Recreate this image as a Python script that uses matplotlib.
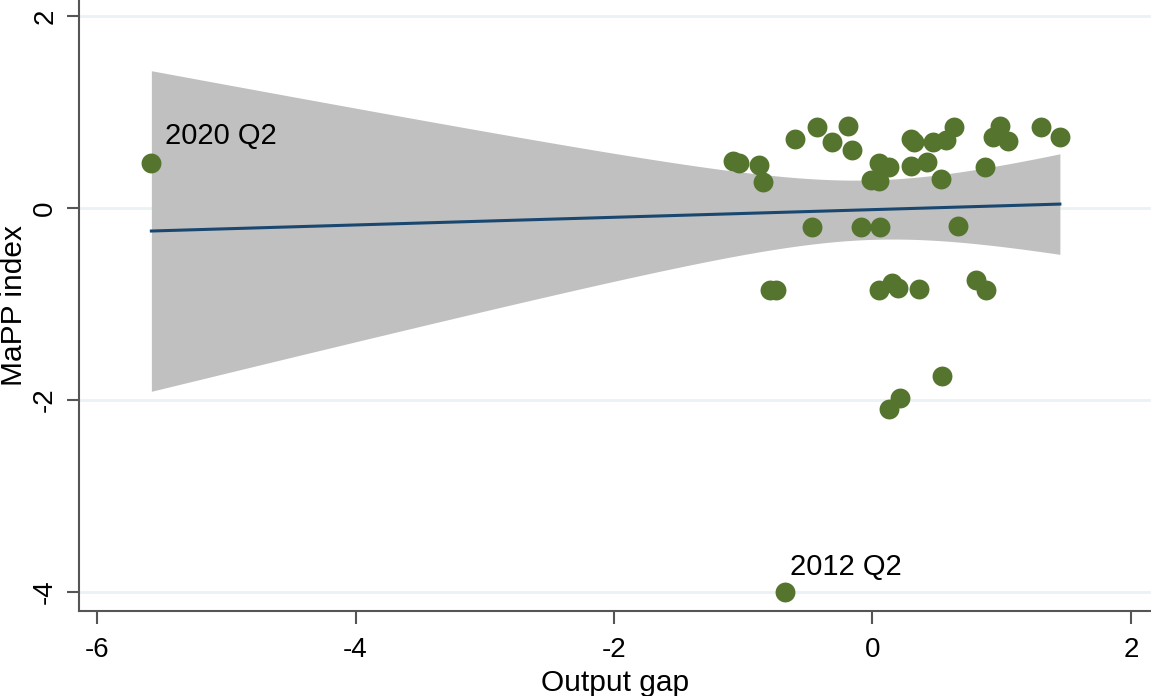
import numpy as np
import matplotlib.pyplot as plt

plt.rcParams['font.family'] = ['Liberation Sans', 'DejaVu Sans']

# --- Data ---
output_gap = [
    -5.58, -0.68,
    -1.08, -1.03, -0.88, -0.85, -0.60, -0.43, -0.31, -0.19, -0.16,
    0.05, 0.13, -0.01, 0.05, 0.30, 0.32, 0.30, 0.42, 0.47, 0.57, 0.63,
    0.53, 0.87, 0.93, 0.99, 1.05, 1.30, 1.45,
    -0.47, -0.09, 0.06, 0.66,
    -0.79, -0.75, 0.05, 0.15, 0.20, 0.36, 0.80, 0.88,
    0.54, 0.21, 0.13,
]
mapp_index = [
    0.47, -4.00,
    0.49, 0.47, 0.45, 0.27, 0.72, 0.84, 0.69, 0.85, 0.60,
    0.47, 0.43, 0.29, 0.28, 0.72, 0.69, 0.44, 0.48, 0.69, 0.71, 0.84,
    0.30, 0.43, 0.74, 0.85, 0.70, 0.84, 0.74,
    -0.20, -0.20, -0.20, -0.19,
    -0.85, -0.86, -0.86, -0.78, -0.83, -0.84, -0.75, -0.86,
    -1.75, -1.98, -2.09,
]
labels = {"2020 Q2": (-5.58, 0.47), "2012 Q2": (-0.68, -4.00)}
x_ticks = [-6, -4, -2, 0, 2]
y_ticks = [-4, -2, 0, 2]

GREEN = "#55752f"
NAVY = "#1a476f"
BAND = "#c0c0c0"
GRID = "#eaf2f3"
AXIS = "#555555"

x = np.array(output_gap)
y = np.array(mapp_index)

# linear fit with 95% CI of the mean (like Stata's lfitci)
n = len(x)
slope, intercept = np.polyfit(x, y, 1)
resid = y - (intercept + slope * x)
s = np.sqrt((resid ** 2).sum() / (n - 2))
sxx = ((x - x.mean()) ** 2).sum()
t_crit = 2.017  # t(0.975, df ~ 42)
xf = np.linspace(x.min(), x.max(), 200)
yf = intercept + slope * xf
half = t_crit * s * np.sqrt(1 / n + (xf - x.mean()) ** 2 / sxx)

fig = plt.figure(figsize=(11.51, 6.96), dpi=100)
ax = fig.add_axes([79 / 1151, 85 / 696, 1 - 79 / 1151, 611 / 696])

for yt in y_ticks:
    ax.axhline(yt, color=GRID, lw=2, zorder=0)

ax.fill_between(xf, yf - half, yf + half, color=BAND, lw=0, zorder=1)
ax.plot(xf, yf, color=NAVY, lw=2.2, zorder=2)
ax.scatter(x, y, s=205, color=GREEN, lw=0, zorder=3)

for txt, (px, py) in labels.items():
    off = (10, 19) if txt == "2020 Q2" else (4, 18)
    ax.annotate(txt, (px, py), xytext=off, textcoords="offset points",
                ha="left", va="center", fontsize=21, color="black")

ax.set_xlim(-6.14, 2.155)
ax.set_ylim(-4.2, 2.167)
ax.set_xticks(x_ticks)
ax.set_yticks(y_ticks)
ax.set_xticklabels([str(v) for v in x_ticks])
ax.set_yticklabels([str(v) for v in y_ticks], rotation=90, va="center")

for side in ("top", "right"):
    ax.spines[side].set_visible(False)
for side in ("left", "bottom"):
    ax.spines[side].set_color(AXIS)
    ax.spines[side].set_linewidth(1.5)
ax.tick_params(axis="both", length=9, width=1.5, color=AXIS,
               labelsize=20, pad=6)
ax.tick_params(axis="x", pad=10)

ax.set_xlabel("Output gap", fontsize=21.5, labelpad=4)
ax.set_ylabel("MaPP index", fontsize=21.5, labelpad=3)

fig.savefig("out.png", dpi=100)
